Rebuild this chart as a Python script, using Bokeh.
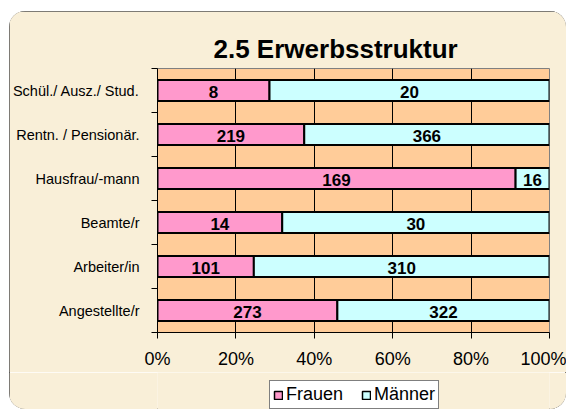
from bokeh.plotting import figure
from bokeh.layouts import column
from bokeh.models import (ColumnDataSource, FixedTicker, Legend, LegendItem,
                          NumeralTickFormatter, LabelSet)
from bokeh.core.properties import value
from bokeh.embed import file_html
from bokeh.resources import INLINE

categories = ["Angestellte/r", "Arbeiter/in", "Beamte/r", "Hausfrau/-mann",
              "Rentn. / Pensionär.", "Schül./ Ausz./ Stud."]
frauen = [273, 101, 14, 169, 219, 8]
maenner = [322, 310, 30, 16, 366, 20]
series = ["Frauen", "Männer"]
x_ticks = [0, 0.2, 0.4, 0.6, 0.8, 1.0]

ypos = [i + 0.5 for i in range(len(categories))]
tot = [f + m for f, m in zip(frauen, maenner)]
f_pct = [f / t for f, t in zip(frauen, tot)]
m_pct = [m / t for m, t in zip(maenner, tot)]

src = ColumnDataSource(dict(
    y=ypos, f=f_pct, m=m_pct,
    f_lab=[str(v) for v in frauen], m_lab=[str(v) for v in maenner],
    f_mid=[v / 2 for v in f_pct],
    m_mid=[f + m / 2 for f, m in zip(f_pct, m_pct)],
))

FONT = "Liberation Sans"
PINK = "#FF99CC"
CYAN = "#CCFFFF"
PANEL = "#F9EFD8"
W = 557

p = figure(width=W, height=361, output_backend="svg", toolbar_location=None,
           x_range=(0, 1), y_range=(0, len(categories)),
           min_border_left=148, min_border_right=17, min_border_top=57,
           min_border_bottom=40)
p.styles = {"border-radius": "16px 16px 0 0", "overflow": "hidden",
            "box-shadow": "inset 1px 1px 0 0 #555, inset -1px 0 0 0 #555"}
p.border_fill_color = PANEL
p.background_fill_color = "#FFCC99"
p.outline_line_color = "#808080"

p.title.text = "2.5 Erwerbsstruktur"
p.title.text_font = FONT
p.title.text_font_size = "26px"
p.title.text_font_style = "bold"
p.title.text_color = "black"
p.title.align = "left"
p.title.offset = 56
p.title.standoff = 10

rs = p.hbar_stack(["f", "m"], y="y", height=0.48, source=src,
                  color=[PINK, CYAN], line_color="black", line_width=2)

for col, mid in (("f_lab", "f_mid"), ("m_lab", "m_mid")):
    p.add_layout(LabelSet(x=mid, y="y", text=col, source=src,
                          text_align="center", text_baseline="middle",
                          text_font=value(FONT), text_font_size=value("17px"),
                          text_font_style="bold", text_color="black",
                          y_offset=-1))

# x axis
p.xaxis.ticker = FixedTicker(ticks=x_ticks)
p.xaxis.formatter = NumeralTickFormatter(format="0%")
p.xaxis.major_label_text_font = FONT
p.xaxis.major_label_text_font_size = "18px"
p.xaxis.major_label_text_color = "black"
p.xaxis.axis_line_color = "black"
p.xaxis.major_tick_line_color = "black"
p.xaxis.major_tick_out = 6
p.xaxis.major_tick_in = 0
p.xaxis.minor_tick_line_color = None
p.xaxis.major_label_standoff = 10

# y axis
p.yaxis.ticker = FixedTicker(ticks=ypos, minor_ticks=list(range(len(categories) + 1)))
p.yaxis.major_label_overrides = {y: c for y, c in zip(ypos, categories)}
p.yaxis.major_label_text_font = FONT
p.yaxis.major_label_text_font_size = "14.5px"
p.yaxis.major_label_text_color = "black"
p.yaxis.major_tick_line_color = None
p.yaxis.major_tick_out = 0
p.yaxis.minor_tick_line_color = "black"
p.yaxis.minor_tick_out = 6
p.yaxis.minor_tick_in = 0
p.yaxis.axis_line_color = "black"
p.yaxis.major_label_standoff = 12

p.xgrid.grid_line_color = "black"
p.xgrid.grid_line_width = 1
p.ygrid.grid_line_color = None

# legend strip (same panel, below the chart); its frame is aligned with p's frame
q = figure(width=W, height=37, output_backend="svg", toolbar_location=None,
           x_range=(0, 1), y_range=(-200, -199),
           min_border_left=0, min_border_right=0, min_border_top=0,
           min_border_bottom=0)
q.styles = {"border-radius": "0 0 16px 16px", "overflow": "hidden",
            "box-shadow": "inset 1px -1px 0 0 #555, inset -1px 0 0 0 #555"}
q.axis.visible = False
q.grid.visible = False
q.outline_line_color = None
q.border_fill_color = PANEL
q.background_fill_color = PANEL
# legend proxies (hidden): same data, out of q's visible y range
r_f = q.hbar(y="y", right="f", height=0.5, source=src,
             fill_color=PINK, line_color="black", line_width=1.5)
r_m = q.hbar(y="y", right="m", height=0.5, source=src,
             fill_color=CYAN, line_color="black", line_width=1.5)
r_f.visible = False
r_m.visible = False

legend = Legend(items=[LegendItem(label=series[0], renderers=[r_f]),
                       LegendItem(label=series[1], renderers=[r_m])],
                orientation="horizontal", location=(112, 0),
                click_policy="none",
                label_text_font=FONT, label_text_font_size="18px",
                label_text_color="black", glyph_width=10, glyph_height=10,
                label_standoff=3, spacing=18, padding=3, margin=0,
                border_line_color="black", border_line_width=1,
                background_fill_color="white", background_fill_alpha=1,
                label_height=16)
q.add_layout(legend)

layout = column(p, q, spacing=0)
layout.margin = (11, 0, 0, 9)

open("out.html", "w").write(file_html(layout, INLINE))
